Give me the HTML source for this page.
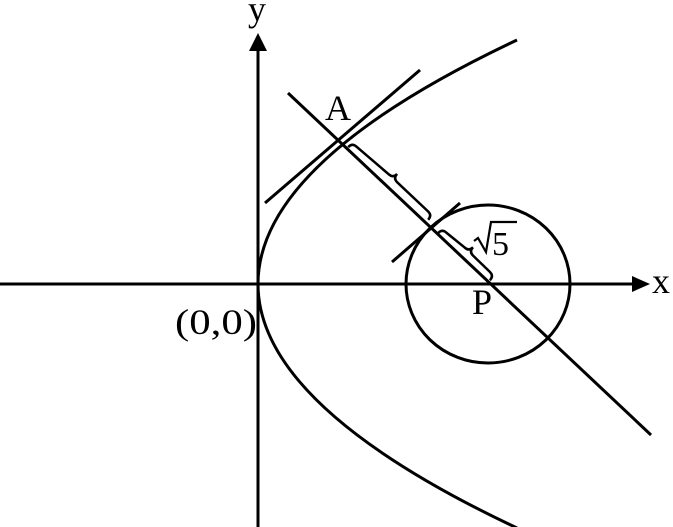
<!DOCTYPE html>
<html><head><meta charset="utf-8"><style>html,body{margin:0;padding:0;background:#fff}svg{display:block}</style></head><body>
<svg width="673" height="527" viewBox="0 0 673 527" xmlns="http://www.w3.org/2000/svg">
<g stroke="#000" stroke-width="3" fill="none">
<line x1="0" y1="284" x2="640" y2="284"/>
<line x1="258" y1="45" x2="258" y2="527"/>
<path d="M517,40 Q-1,284 517,528"/>
<ellipse cx="488" cy="284" rx="82" ry="79"/>
<line x1="288" y1="93" x2="651" y2="435"/>
<line x1="265" y1="203" x2="420" y2="70"/>
<line x1="392" y1="262" x2="460" y2="203"/>
<g transform="translate(353,142) rotate(43.3)" stroke-width="2.5"><path d="M0,7 q0,-6 6,-6 L48,-1 q6,0 6,-6 q0,6 6,6 L102,-1 q6,0 6,6"/></g>
<g transform="translate(443,228) rotate(44)" stroke-width="2.5"><path d="M0,7 q0,-6 6,-6 L29,-1 q6,0 6,-6 q0,6 6,6 L64,-1 q6,0 6,6"/></g>
<path d="M474,241 l4,-3 l8,14 l5,-30 l26,0" stroke-width="2.2"/>
</g>
<polygon points="258,33 249,51 267,51" fill="#000"/>
<polygon points="650,284 632,276 632,292" fill="#000"/>
<g font-family="Liberation Serif, serif" font-size="36" fill="#000">
<text x="248" y="21">y</text>
<text x="325" y="120">A</text>
<text x="652" y="293">x</text>
<text x="472" y="314">P</text>
<text x="175" y="334" textLength="82" lengthAdjust="spacingAndGlyphs">(0,0)</text>
<text x="492" y="255" font-size="34">5</text>
</g>
</svg>
</body></html>
